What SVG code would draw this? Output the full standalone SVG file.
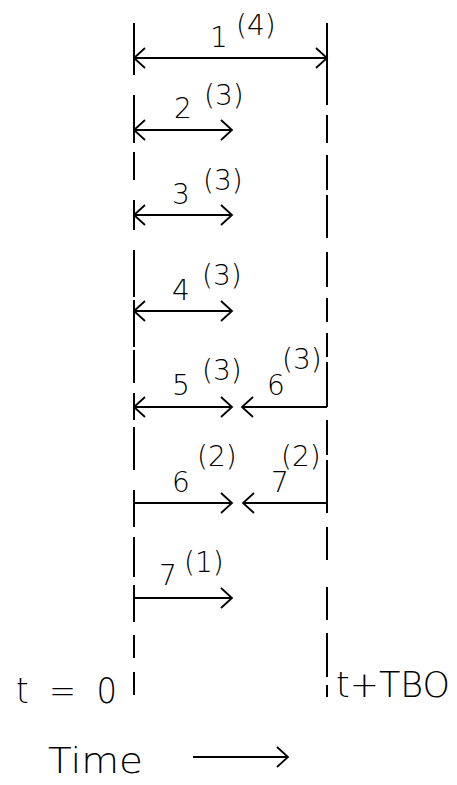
<svg xmlns="http://www.w3.org/2000/svg" width="457" height="785" viewBox="0 0 457 785">
<style>
.bg{fill:#fff}
.ln{stroke:#000;stroke-width:2;fill:none;stroke-linecap:butt}
.ar{stroke:#000;stroke-width:1.8;fill:none}
.lb{font-family:"DejaVu Sans","Liberation Sans",Arial,sans-serif;font-weight:200;font-size:28px;fill:#000}
.big{font-family:"DejaVu Sans","Liberation Sans",Arial,sans-serif;font-weight:200;font-size:35px;fill:#000}
</style>
<defs>
<marker id="h" viewBox="-13 -12 15 24" refX="0" refY="0" markerWidth="15" markerHeight="24" markerUnits="userSpaceOnUse" orient="auto-start-reverse" overflow="visible">
<path d="M-11,-10 L0,0 L-11,10" fill="none" stroke="#000" stroke-width="1.8"/>
</marker>
</defs>
<rect class="bg" width="457" height="785"/>
<g id="timeline-start">
<path class="ln" d="M134,23V75 M134,95V143 M134,152V180 M134,200V230 M134,250V297 M134,300V347 M134,350V383 M134,393V420 M134,427V470 M134,490V527 M134,537V577 M134,585V622 M134,635V658 M134,672V695"/>
</g>
<g id="timeline-end">
<path class="ln" d="M327,23V105 M327,115V143 M327,155V190 M327,195V238 M327,252V287 M327,298V322 M327,333V357 M327,362V407 M327,420V455 M327,460V513 M327,527V560 M327,587V620 M327,633V677 M327,685V697"/>
</g>
<g id="connectors">
<line class="ar" x1="134" y1="58" x2="327" y2="58" marker-start="url(#h)" marker-end="url(#h)"/>
<line class="ar" x1="134" y1="130" x2="232" y2="130" marker-start="url(#h)" marker-end="url(#h)"/>
<line class="ar" x1="134" y1="215" x2="232" y2="215" marker-start="url(#h)" marker-end="url(#h)"/>
<line class="ar" x1="134" y1="311" x2="232" y2="311" marker-start="url(#h)" marker-end="url(#h)"/>
<line class="ar" x1="134" y1="407" x2="232" y2="407" marker-start="url(#h)" marker-end="url(#h)"/>
<line class="ar" x1="327" y1="407" x2="242" y2="407" marker-end="url(#h)"/>
<line class="ar" x1="134" y1="503" x2="232" y2="503" marker-end="url(#h)"/>
<line class="ar" x1="327" y1="503" x2="243" y2="503" marker-end="url(#h)"/>
<line class="ar" x1="134" y1="598" x2="232" y2="598" marker-end="url(#h)"/>
<line class="ar" x1="193" y1="757" x2="288" y2="757" marker-end="url(#h)"/>
</g>
<g id="label-1"><text class="lb" x="210" y="47">1</text><text class="lb" x="236" y="35">(4)</text></g>
<g id="label-2"><text class="lb" x="174" y="118">2</text><text class="lb" x="204" y="105">(3)</text></g>
<g id="label-3"><text class="lb" x="172" y="204">3</text><text class="lb" x="203" y="190">(3)</text></g>
<g id="label-4"><text class="lb" x="172" y="300">4</text><text class="lb" x="202" y="285">(3)</text></g>
<g id="label-5"><text class="lb" x="172" y="395">5</text><text class="lb" x="202" y="380">(3)</text></g>
<g id="label-6a"><text class="lb" x="267" y="395">6</text><text class="lb" x="282" y="369">(3)</text></g>
<g id="label-6b"><text class="lb" x="172" y="492">6</text><text class="lb" x="197" y="466">(2)</text></g>
<g id="label-7a"><text class="lb" x="271" y="492">7</text><text class="lb" x="281" y="466">(2)</text></g>
<g id="label-7b"><text class="lb" x="159" y="585">7</text><text class="lb" x="184" y="572">(1)</text></g>
<g id="label-t0"><text class="big" x="16" y="703" textLength="101" lengthAdjust="spacingAndGlyphs" xml:space="preserve">t  =  0</text></g>
<g id="label-tbo"><text class="big" x="336" y="697" textLength="114" lengthAdjust="spacingAndGlyphs">t+TBO</text></g>
<g id="label-time"><text class="big" x="48" y="773" textLength="95" lengthAdjust="spacingAndGlyphs">Time</text></g>
</svg>
